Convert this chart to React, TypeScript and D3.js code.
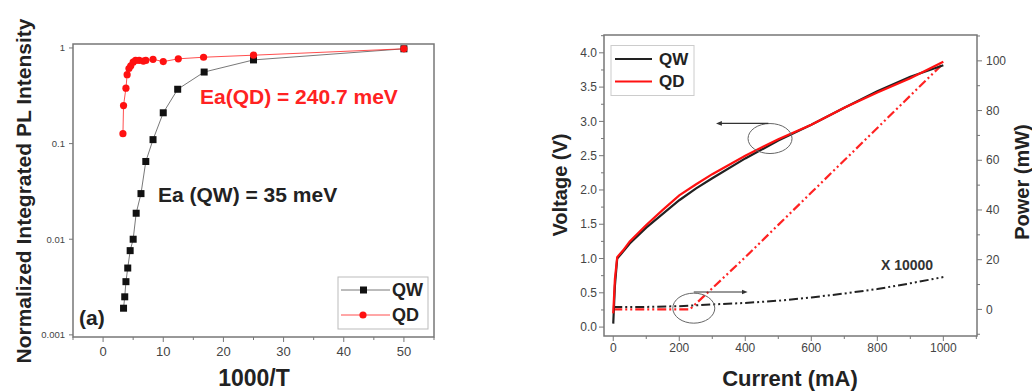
import * as d3 from "d3";

// ---- panel (a): Arrhenius plot ----
const qwInvT = [3.4, 3.6, 3.8, 4.1, 4.5, 5.0, 5.5, 6.3, 7.1, 8.3, 10.0, 12.4, 16.8, 25, 50];
const qwPL = [0.0019, 0.0025, 0.0036, 0.005, 0.0076, 0.010, 0.0187, 0.030, 0.065, 0.11, 0.21, 0.37, 0.56, 0.75, 0.98];
const qdInvT = [3.3, 3.4, 3.8, 4.0, 4.3, 4.6, 5.0, 5.4, 6.0, 6.7, 7.1, 8.3, 10.0, 12.5, 16.7, 25, 50];
const qdPL = [0.127, 0.25, 0.38, 0.525, 0.61, 0.65, 0.71, 0.74, 0.74, 0.73, 0.74, 0.76, 0.72, 0.77, 0.80, 0.84, 0.98];
const invTTicks = [0, 10, 20, 30, 40, 50];
const plTicks = [1, 0.1, 0.01, 0.001];
const plTickLabels = ["1", "0.1", "0.01", "0.001"];

// ---- panel (b): L-I-V ----
const current = [0, 5, 12, 30, 50, 100, 150, 200, 250, 300, 400, 500, 600, 700, 800, 900, 1000];
const qwVolt = [0.05, 0.6, 1.0, 1.1, 1.22, 1.45, 1.65, 1.85, 2.02, 2.17, 2.46, 2.72, 2.95, 3.2, 3.44, 3.65, 3.82];
const qdVolt = [0.2, 0.7, 1.02, 1.12, 1.25, 1.49, 1.71, 1.92, 2.08, 2.23, 2.5, 2.74, 2.95, 3.2, 3.42, 3.63, 3.87];
const powerCurrent = [0, 100, 200, 232, 300, 400, 500, 600, 700, 800, 900, 1000];
const qdPower = [0, 0, 0, 0, 8.5, 21, 34, 47, 60, 73, 86, 99];
const qwPower = [1, 1, 1.3, 1.5, 2, 2.6, 3.5, 4.8, 6.4, 8.2, 10.5, 13];
const currentTicks = [0, 200, 400, 600, 800, 1000];
const voltTicks = [0, 0.5, 1, 1.5, 2, 2.5, 3, 3.5, 4];
const powerTicks = [0, 20, 40, 60, 80, 100];

const font = "'Liberation Sans', Arial, sans-serif";
const frameColor = "#777";
const tickText = "#444";

function PanelA() {
  const left = 73, right = 434, top = 44, bottom = 337;
  const x = d3.scaleLinear().domain([-5, 55]).range([left, right]);
  const y = d3.scaleLog().domain([0.00095, 1.1]).range([bottom, top]);
  const line = d3.line<[number, number]>().x(d => x(d[0])).y(d => y(d[1]));
  const qw = qwInvT.map((v, i) => [v, qwPL[i]] as [number, number]);
  const qd = qdInvT.map((v, i) => [v, qdPL[i]] as [number, number]);
  const minor = d3.range(-5, 56, 5);
  return (
    <g fontFamily={font}>
      <rect x={left} y={top} width={right - left} height={bottom - top} fill="none" stroke={frameColor} strokeWidth={1.5} />
      {minor.map(t => (
        <line key={t} x1={x(t)} x2={x(t)} y1={bottom} y2={bottom + (t % 10 === 0 ? 5 : 3)} stroke={frameColor} />
      ))}
      {invTTicks.map(t => (
        <text key={t} x={x(t)} y={bottom + 19} textAnchor="middle" fontSize={13} fill={tickText}>{t}</text>
      ))}
      {plTicks.map((t, i) => (
        <g key={t}>
          <line x1={left - 4} x2={left} y1={y(t)} y2={y(t)} stroke={frameColor} />
          <text x={left - 8} y={y(t)} dy="0.35em" textAnchor="end" fontSize={9.5} fill={tickText}>{plTickLabels[i]}</text>
        </g>
      ))}
      <path d={line(qw) ?? ""} fill="none" stroke="#555" strokeWidth={0.8} />
      <path d={line(qd) ?? ""} fill="none" stroke="#f22" strokeWidth={0.8} />
      {qw.map((d, i) => (
        <rect key={i} x={x(d[0]) - 3.5} y={y(d[1]) - 3.5} width={7} height={7} fill="#111" />
      ))}
      {qd.map((d, i) => (
        <circle key={i} cx={x(d[0])} cy={y(d[1])} r={3.6} fill="#f11" />
      ))}
      <text x={200} y={97} dy="0.35em" fontSize={21} fontWeight="bold" fill="#f22">Ea(QD) = 240.7 meV</text>
      <text x={158} y={195} dy="0.35em" fontSize={21} fontWeight="bold" fill="#222">Ea (QW) = 35 meV</text>
      <text x={79} y={318} dy="0.35em" fontSize={21} fontWeight="bold" fill="#222">(a)</text>
      <rect x={338} y={277} width={90} height={52} fill="white" stroke="#bbb" />
      <line x1={341} x2={390} y1={290} y2={290} stroke="#555" strokeWidth={0.8} />
      <rect x={360} y={286.5} width={7} height={7} fill="#111" />
      <text x={392} y={290} dy="0.35em" fontSize={18} fontWeight="bold" fill="#222">QW</text>
      <line x1={341} x2={390} y1={315} y2={315} stroke="#f22" strokeWidth={0.8} />
      <circle cx={363} cy={315} r={3.6} fill="#f11" />
      <text x={392} y={315} dy="0.35em" fontSize={18} fontWeight="bold" fill="#222">QD</text>
      <text transform={`translate(24,191) rotate(-90)`} textAnchor="middle" dy="0.35em" fontSize={21} fontWeight="bold" fill="#222">Normalized Integrated PL Intensity</text>
      <text x={254} y={378} textAnchor="middle" dy="0.35em" fontSize={23} fontWeight="bold" fill="#222">1000/T</text>
    </g>
  );
}

function PanelB() {
  const left = 604, right = 977, top = 35, bottom = 336;
  const x = d3.scaleLinear().domain([-28, 1102]).range([left, right]);
  const yV = d3.scaleLinear().domain([-0.13, 4.26]).range([bottom, top]);
  const yP = d3.scaleLinear().domain([-10.7, 110.4]).range([bottom, top]);
  const lineV = d3.line<number>().x((_, i) => x(current[i])).y(d => yV(d));
  const lineP = d3.line<number>().x((_, i) => x(powerCurrent[i])).y(d => yP(d));
  const dash = "9,3,2,3,2,3";
  return (
    <g fontFamily={font}>
      <defs>
        <marker id="arrowHead" viewBox="0 0 10 10" refX={5} refY={5} markerWidth={5} markerHeight={5} orient="auto-start-reverse">
          <path d="M0,1 L10,5 L0,9 z" fill="#333" />
        </marker>
      </defs>
      <rect x={left} y={top} width={right - left} height={bottom - top} fill="none" stroke={frameColor} strokeWidth={1.5} />
      {d3.range(0, 1101, 100).map(t => (
        <line key={t} x1={x(t)} x2={x(t)} y1={bottom} y2={bottom + (t % 200 === 0 ? 5 : 3)} stroke={frameColor} />
      ))}
      {currentTicks.map(t => (
        <text key={t} x={x(t)} y={bottom + 16} textAnchor="middle" fontSize={12} fill={tickText}>{t}</text>
      ))}
      {d3.range(0, 4.26, 0.25).map(t => (
        <line key={t} x1={left - (t % 0.5 === 0 ? 5 : 3)} x2={left} y1={yV(t)} y2={yV(t)} stroke={frameColor} />
      ))}
      {voltTicks.map(t => (
        <text key={t} x={left - 7} y={yV(t)} dy="0.35em" textAnchor="end" fontSize={12} fill={tickText}>{t.toFixed(1)}</text>
      ))}
      {d3.range(-10, 111, 10).map(t => (
        <line key={t} x1={right} x2={right + (t % 20 === 0 ? 5 : 3)} y1={yP(t)} y2={yP(t)} stroke={frameColor} />
      ))}
      {powerTicks.map(t => (
        <text key={t} x={right + 9} y={yP(t)} dy="0.35em" textAnchor="start" fontSize={12} fill={tickText}>{t}</text>
      ))}
      <path d={lineP(qdPower) ?? ""} fill="none" stroke="#f22" strokeWidth={2.2} strokeDasharray={dash} />
      <path d={lineP(qwPower) ?? ""} fill="none" stroke="#222" strokeWidth={2} strokeDasharray={dash} />
      <path d={lineV(qwVolt) ?? ""} fill="none" stroke="#222" strokeWidth={2.2} />
      <path d={lineV(qdVolt) ?? ""} fill="none" stroke="#f11" strokeWidth={2.2} />
      <ellipse cx={x(475)} cy={yV(2.75)} rx={22} ry={15} fill="none" stroke="#666" strokeWidth={1} />
      <line x1={x(470)} x2={x(320)} y1={yV(2.97)} y2={yV(2.97)} stroke="#333" strokeWidth={1.2} markerEnd="url(#arrowHead)" />
      <ellipse cx={x(244)} cy={yP(0.5)} rx={21} ry={15} fill="none" stroke="#666" strokeWidth={1} />
      <line x1={x(244)} x2={x(398)} y1={yP(7)} y2={yP(7)} stroke="#333" strokeWidth={1.2} markerEnd="url(#arrowHead)" />
      <text x={881} y={265} dy="0.35em" fontSize={14} fontWeight="bold" fill="#333">X 10000</text>
      <rect x={611} y={45.5} width={83} height={50} fill="white" stroke="#ccc" />
      <line x1={615} x2={652} y1={59} y2={59} stroke="#222" strokeWidth={2} />
      <text x={659} y={59} dy="0.35em" fontSize={17} fontWeight="bold" fill="#222">QW</text>
      <line x1={615} x2={652} y1={81.5} y2={81.5} stroke="#f11" strokeWidth={2} />
      <text x={659} y={81.5} dy="0.35em" fontSize={17} fontWeight="bold" fill="#222">QD</text>
      <text transform={`translate(560,185) rotate(-90)`} textAnchor="middle" dy="0.35em" fontSize={20} fontWeight="bold" fill="#222">Voltage (V)</text>
      <text transform={`translate(1022,182) rotate(-90)`} textAnchor="middle" dy="0.35em" fontSize={20} fontWeight="bold" fill="#222">Power (mW)</text>
      <text x={790} y={378} textAnchor="middle" dy="0.35em" fontSize={22} fontWeight="bold" fill="#222">Current (mA)</text>
    </g>
  );
}

export default function App() {
  return (
    <svg width={1032} height={391} viewBox="0 0 1032 391" style={{ position: "absolute", left: 0, top: 0, background: "white" }}>
      <PanelA />
      <PanelB />
    </svg>
  );
}
